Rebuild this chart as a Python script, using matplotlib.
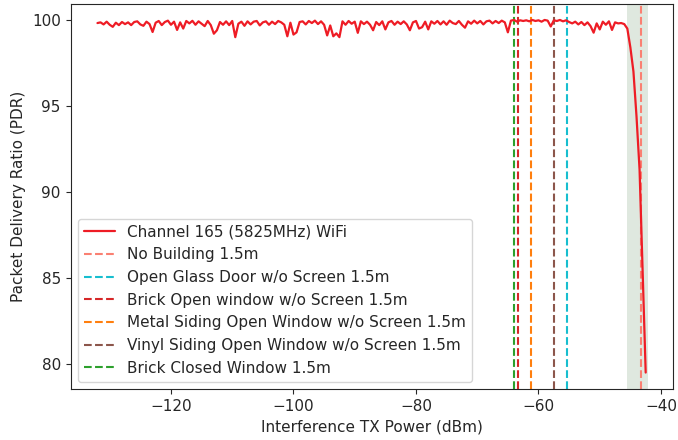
import matplotlib
matplotlib.use("Agg")
import matplotlib.pyplot as plt
import seaborn as sns

sns.set_style("ticks")
plt.rcParams['font.family'] = ['DejaVu Sans']

# Interference TX power (dBm), 0.5 dB steps from -132 to -42.5
tx_power = [-132 + 0.5 * i for i in range(180)]

pdr = [
    99.82, 99.86, 99.74, 99.90, 99.72, 99.60, 99.84, 99.70, 99.88, 99.76,
    99.86, 99.70, 99.88, 99.92, 99.74, 99.66, 99.90, 99.76, 99.30, 99.84,
    99.94, 99.70, 99.88, 99.96, 99.72, 99.90, 99.42, 99.86, 99.50, 99.94,
    99.80, 99.95, 99.72, 99.92, 99.78, 99.64, 99.94, 99.70, 99.20, 99.40,
    99.88, 99.72, 99.92, 99.70, 99.94, 99.00, 99.78, 99.90, 99.66, 99.92,
    99.74, 99.90, 99.94, 99.68, 99.86, 99.92, 99.72, 99.90, 99.76, 99.94,
    99.86, 99.72, 99.05, 99.84, 99.15, 99.28, 99.88, 99.92, 99.74, 99.94,
    99.82, 99.96, 99.76, 99.92, 99.72, 99.10, 99.68, 99.05, 99.22, 99.00,
    99.92, 99.72, 99.94, 99.78, 99.90, 99.25, 99.92, 99.76, 99.90, 99.72,
    99.40, 99.88, 99.70, 99.92, 99.45, 99.86, 99.94, 99.72, 99.90, 99.76,
    99.92, 99.74, 99.40, 99.86, 99.94, 99.50, 99.58, 99.90, 99.45, 99.92,
    99.78, 99.94, 99.74, 99.92, 99.72, 99.96, 99.82, 99.76, 99.94, 99.72,
    99.55, 99.92, 99.78, 99.96, 99.80, 99.94, 99.74, 99.92, 99.96, 99.80,
    99.94, 99.82, 99.96, 99.86, 99.28, 99.96, 100.0, 99.90, 99.98, 99.94,
    99.98, 99.92, 100.0, 99.94, 99.98, 99.90, 100.0, 99.96, 99.62, 99.98,
    99.94, 100.0, 99.92, 99.98, 99.88, 99.80, 99.90, 99.74, 99.88, 99.70,
    99.86, 99.64, 99.26, 99.80, 99.45, 99.90, 99.72, 99.92, 99.42, 99.86,
    99.80, 99.82, 99.76, 99.50, 98.40, 97.00, 94.40, 91.30, 85.50, 79.50,
]

series_label = "Channel 165 (5825MHz) WiFi"
thresholds = [
    ("No Building 1.5m", -43.3, "salmon"),
    ("Open Glass Door w/o Screen 1.5m", -55.4, "tab:cyan"),
    ("Brick Open window w/o Screen 1.5m", -63.3, "tab:red"),
    ("Metal Siding Open Window w/o Screen 1.5m", -61.3, "tab:orange"),
    ("Vinyl Siding Open Window w/o Screen 1.5m", -57.4, "tab:brown"),
    ("Brick Closed Window 1.5m", -64.0, "tab:green"),
]
shade_range = (-45.6, -42.1)

fig = plt.figure(figsize=(6.78, 4.40), dpi=100)
ax = fig.add_axes([0.104, 0.115, 0.889, 0.876])

ax.axvspan(shade_range[0], shade_range[1], color="#dfe8df", zorder=0, lw=0)
ax.plot(tx_power, pdr, color="#ee1c25", lw=1.6, label=series_label, zorder=3)
for lab, xv, col in thresholds:
    ax.axvline(xv, color=col, ls="--", lw=1.5, label=lab, zorder=2)

ax.set_xlim(-136.4, -38.0)
ax.set_ylim(78.52, 100.93)
ax.set_xticks([-120, -100, -80, -60, -40])
ax.set_yticks([80, 85, 90, 95, 100])
ax.tick_params(labelsize=11)
ax.set_xlabel("Interference TX Power (dBm)", fontsize=11)
ax.set_ylabel("Packet Delivery Ratio (PDR)", fontsize=11)
ax.legend(loc="lower left", fontsize=11)

fig.savefig("out.png", dpi=100)
